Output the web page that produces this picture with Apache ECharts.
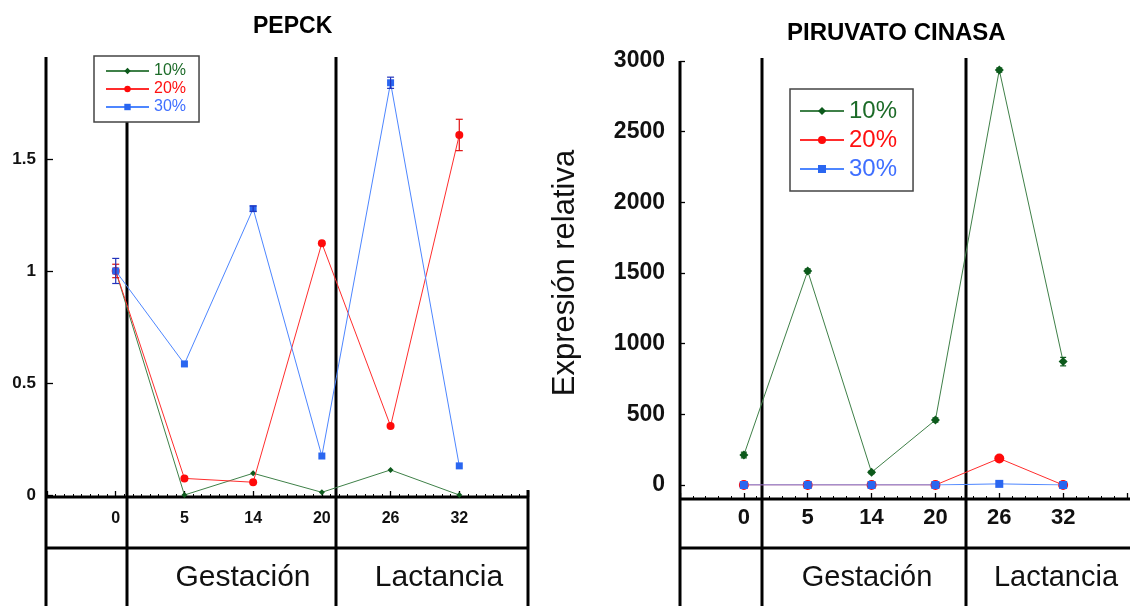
<!DOCTYPE html>
<html>
<head>
<meta charset="utf-8">
<script src="https://cdn.jsdelivr.net/npm/echarts@6/dist/echarts.min.js"></script>
<style>
  html, body { margin: 0; padding: 0; background: #fff; }
  #chart { width: 1130px; height: 606px; }
</style>
</head>
<body>
<div id="chart"></div>
<script>
// ---- data ----
const dias = ['0', '5', '14', '20', '26', '32'];
const grupos = ['10%', '20%', '30%'];
const etapas = ['Gestación', 'Lactancia'];
const titulos = ['PEPCK', 'PIRUVATO CINASA'];
const ejeY = 'Expresión relativa';

// PEPCK (relative expression)
const pepck10 = [1.0, 0.0, 0.097, 0.012, 0.112, 0.0];
const pepck20 = [1.0, 0.074, 0.057, 1.124, 0.308, 1.607];
const pepck30 = [1.0, 0.585, 1.278, 0.174, 1.84, 0.13];
const pepck10Err = [0, 0, 0, 0, 0, 0];
const pepck20Err = [0.03, 0, 0, 0, 0, 0.07];
const pepck30Err = [0.056, 0, 0.012, 0, 0.025, 0];

// Piruvato cinasa (relative expression)
const pk10 = [212, 1514, 90, 460, 2936, 873];
const pk20 = [0, 0, 0, 0, 188, 0];
const pk30 = [0, 0, 0, 0, 8, 0];
const pk10Err = [20, 15, 10, 15, 15, 30];

// ---- styling ----
const FONT = '"Liberation Sans", Arial, Helvetica, sans-serif';
const lineColors = ['#3f8048', '#ff2d2d', '#4d86ff'];
const markColors = ['#0d5a1c', '#ff0a0a', '#2a66f0'];
const textColors = ['#1c6b28', '#ff1010', '#3f6fff'];
const symbols = ['diamond', 'circle', 'rect'];

// plot areas (pixels)
const G1 = { left: 47, top: 57, width: 481, height: 438 };
const G2 = { left: 680, top: 61, width: 464, height: 424 };

const pts = arr => arr.map((v, i) => [i, v]);
const errPts = (vals, err) => vals.map((v, i) => [i, v - err[i], v + err[i]]).filter(d => d[2] > d[1]);

function errorBar(color, cap) {
  return function (params, api) {
    const x = api.value(0);
    const lo = api.coord([x, api.value(1)]);
    const hi = api.coord([x, api.value(2)]);
    const style = { stroke: color, lineWidth: 1.2 };
    return {
      type: 'group',
      children: [
        { type: 'line', shape: { x1: lo[0], y1: lo[1], x2: hi[0], y2: hi[1] }, style },
        { type: 'line', shape: { x1: lo[0] - cap, y1: lo[1], x2: lo[0] + cap, y2: lo[1] }, style },
        { type: 'line', shape: { x1: hi[0] - cap, y1: hi[1], x2: hi[0] + cap, y2: hi[1] }, style }
      ]
    };
  };
}

function xAxisFor(gridIndex, offset, margin, fontSize, minorSplit) {
  return {
    type: 'value', gridIndex, min: -1, max: 6, interval: 1, offset,
    axisLine: { show: false, onZero: false },
    splitLine: { show: false },
    axisTick: { inside: true, length: 6, lineStyle: { color: '#000', width: 1.3 } },
    minorTick: { show: true, splitNumber: minorSplit, length: 3, lineStyle: { color: '#000', width: 1 } },
    axisLabel: {
      margin, fontSize, fontWeight: 'bold', color: '#111', fontFamily: FONT,
      formatter: v => (Number.isInteger(v) && v >= 0 && v < dias.length) ? dias[v] : ''
    }
  };
}

function lineSeries(name, data, k, xi, size) {
  return {
    name, type: 'line', xAxisIndex: xi, yAxisIndex: xi, data: pts(data),
    symbol: symbols[k], symbolSize: size,
    lineStyle: { color: lineColors[k], width: 1 },
    itemStyle: { color: markColors[k] },
    z: 3 + k
  };
}

function errSeries(name, vals, err, xi, cap, color) {
  return {
    name, type: 'custom', xAxisIndex: xi, yAxisIndex: xi,
    data: errPts(vals, err), encode: { x: 0, y: [1, 2] },
    renderItem: errorBar(color, cap), z: 6
  };
}

// table frame, separators and stage labels
const black = { stroke: '#000', lineWidth: 3 };
function seg(x1, y1, x2, y2) {
  return { type: 'line', z: 1, shape: { x1, y1, x2, y2 }, style: black };
}
function label(text, x, y, size) {
  return {
    type: 'text', z: 1, x, y,
    style: { text, fill: '#111', font: `${size}px ${FONT}`, align: 'center', verticalAlign: 'middle' }
  };
}
const L1 = G1.left - 1, R1 = G1.left + G1.width, R2 = 1130;
const graphics = [
  // left panel
  seg(L1, G1.top, L1, 606),
  seg(L1, 497, R1, 497),
  seg(L1, 548, R1, 548),
  seg(127, G1.top, 127, 606),
  seg(336, G1.top, 336, 606),
  seg(R1, 490, R1, 606),
  label(etapas[0], 243, 578, 30),
  label(etapas[1], 439, 578, 30),
  // right panel
  seg(G2.left, G2.top, G2.left, 606),
  seg(G2.left, 499, R2, 499),
  seg(G2.left, 548, R2, 548),
  seg(762, 58, 762, 606),
  seg(966, 58, 966, 606),
  label(etapas[0], 867, 578, 29),
  label(etapas[1], 1056, 578, 29)
];

const option = {
  animation: false,
  backgroundColor: '#fff',
  title: [
    { text: titulos[0], left: 253, top: 15, padding: 0,
      textStyle: { fontFamily: FONT, fontSize: 23, fontWeight: 'bold', color: '#000' } },
    { text: titulos[1], left: 787, top: 21, padding: 0,
      textStyle: { fontFamily: FONT, fontSize: 24, fontWeight: 'bold', color: '#000' } }
  ],
  legend: [
    {
      orient: 'vertical', left: 94, top: 56, z: 10, selectedMode: false,
      backgroundColor: '#fff', borderColor: '#444', borderWidth: 1.5,
      padding: [7, 13, 7, 11], itemWidth: 43, itemHeight: 8, itemGap: 2,
      textStyle: { fontFamily: FONT, fontSize: 16, lineHeight: 16 },
      data: grupos.map((n, i) => ({ name: n, textStyle: { color: textColors[i] } }))
    },
    {
      orient: 'vertical', left: 790, top: 89, z: 10, selectedMode: false,
      backgroundColor: '#fff', borderColor: '#444', borderWidth: 1.5,
      padding: [9, 16, 9, 9], itemWidth: 44, itemHeight: 10, itemGap: 3,
      textStyle: { fontFamily: FONT, fontSize: 24, lineHeight: 26 },
      data: grupos.map((n, i) => ({ name: n, textStyle: { color: textColors[i] } }))
    }
  ],
  grid: [G1, G2],
  xAxis: [
    xAxisFor(0, 2, 14, 16, 8),
    xAxisFor(1, 14, 8, 22, 5)
  ],
  yAxis: [
    {
      type: 'value', gridIndex: 0, min: 0, max: 1.955, interval: 0.5,
      axisLine: { show: false, onZero: false }, splitLine: { show: false },
      axisTick: { inside: true, length: 6, customValues: [0, 0.5, 1, 1.5], lineStyle: { color: '#000', width: 1.3 } },
      axisLabel: {
        customValues: [0, 0.5, 1, 1.5], margin: 11, fontSize: 17, fontWeight: 'bold',
        color: '#111', fontFamily: FONT
      }
    },
    {
      type: 'value', gridIndex: 1, min: 0, max: 3000, interval: 500,
      name: ejeY, nameLocation: 'middle', nameRotate: 90, nameGap: 99,
      nameTextStyle: { fontFamily: FONT, fontSize: 31, color: '#111' },
      axisLine: { show: false, onZero: false }, splitLine: { show: false },
      axisTick: { inside: true, length: 5, lineStyle: { color: '#000', width: 1.3 } },
      axisLabel: {
        margin: 15, fontSize: 23, fontWeight: 'bold', color: '#111', fontFamily: FONT,
        formatter: v => String(v)
      }
    }
  ],
  series: [
    lineSeries(grupos[0], pepck10, 0, 0, 6),
    lineSeries(grupos[1], pepck20, 1, 0, 8),
    lineSeries(grupos[2], pepck30, 2, 0, 7),
    errSeries('err-pepck-20', pepck20, pepck20Err, 0, 3.5, '#e01010'),
    errSeries('err-pepck-30', pepck30, pepck30Err, 0, 3.5, '#2233bb'),
    lineSeries(grupos[0], pk10, 0, 1, 9),
    lineSeries(grupos[1], pk20, 1, 1, 10),
    lineSeries(grupos[2], pk30, 2, 1, 8),
    errSeries('err-pk-10', pk10, pk10Err, 1, 3, '#0d5a1c')
  ],
  graphic: graphics
};

const chart = echarts.init(document.getElementById('chart'), null, { renderer: 'canvas' });
chart.setOption(option);
</script>
</body>
</html>
